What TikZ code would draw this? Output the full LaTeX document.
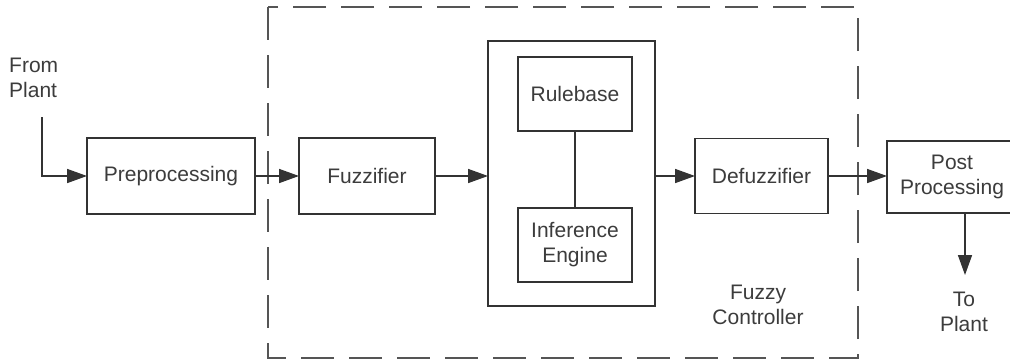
\documentclass[tikz,border=0pt]{standalone}
\usepackage{fontspec}
\setmainfont{Liberation Sans}
\usetikzlibrary{arrows.meta}
\definecolor{linec}{HTML}{333333}
\definecolor{textc}{HTML}{3C3C3C}
\definecolor{dashc}{HTML}{555555}
\begin{document}
\begin{tikzpicture}[x=1pt,y=-1pt,
  blk/.style={draw=linec,line width=1.6pt,fill=white,inner sep=0pt,outer sep=0pt,
    align=center,text=textc,font=\fontsize{21}{25}\selectfont},
  lbl/.style={inner sep=0pt,text=textc,font=\fontsize{21}{25}\selectfont},
  conn/.style={draw=linec,line width=1.6pt,-{Triangle[length=20pt,width=14pt]}},
  plain/.style={draw=linec,line width=1.6pt}]
\useasboundingbox (0,0) rectangle (1010,360);
\fill[white] (0,0) rectangle (1010,360);
% dashed controller region
\draw[dashc,line width=1.8pt,dash pattern=on 33pt off 15pt] (268,7) rectangle (858,358);
% blocks
\node[blk,minimum width=168pt,minimum height=76pt] (pre) at (171,176) {Preprocessing};
\node[blk,minimum width=136pt,minimum height=76pt] (fuz) at (367,176) {Fuzzifier};
\node[blk,minimum width=167pt,minimum height=265pt] (big) at (571.5,173.5) {};
\node[blk,minimum width=114pt,minimum height=74pt] (rule) at (575,94) {Rulebase};
\node[blk,minimum width=114pt,minimum height=74pt] (inf) at (575,245) {Inference\\Engine};
\node[blk,minimum width=133pt,minimum height=75pt] (def) at (761.5,176) {Defuzzifier};
\node[blk,minimum width=130pt,minimum height=72pt] (post) at (952,177) {Post\\Processing};
% labels
\node[lbl,align=left,anchor=west] (from) at (9,78) {From\\Plant};
\node[lbl,align=center] (to) at (964,312) {To\\Plant};
\node[lbl,align=center] (fc) at (758,305) {Fuzzy\\Controller};
% connector coordinates
\coordinate (in0) at (42,117);
\coordinate (in1) at (42,176);
\coordinate (pdown) at (965,213);
\coordinate (pend) at (965,275);
% connectors
\draw[conn] (in0) -- (in1) -- (pre.west);
\draw[conn] (pre.east) -- (fuz.west);
\draw[conn] (fuz.east) -- (big.west |- fuz.east);
\draw[conn] (big.east |- def.west) -- (def.west);
\draw[conn] (def.east) -- (post.west |- def.east);
\draw[plain] (rule.south) -- (inf.north);
\draw[conn] (pdown) -- (pend);
\end{tikzpicture}
\end{document}
